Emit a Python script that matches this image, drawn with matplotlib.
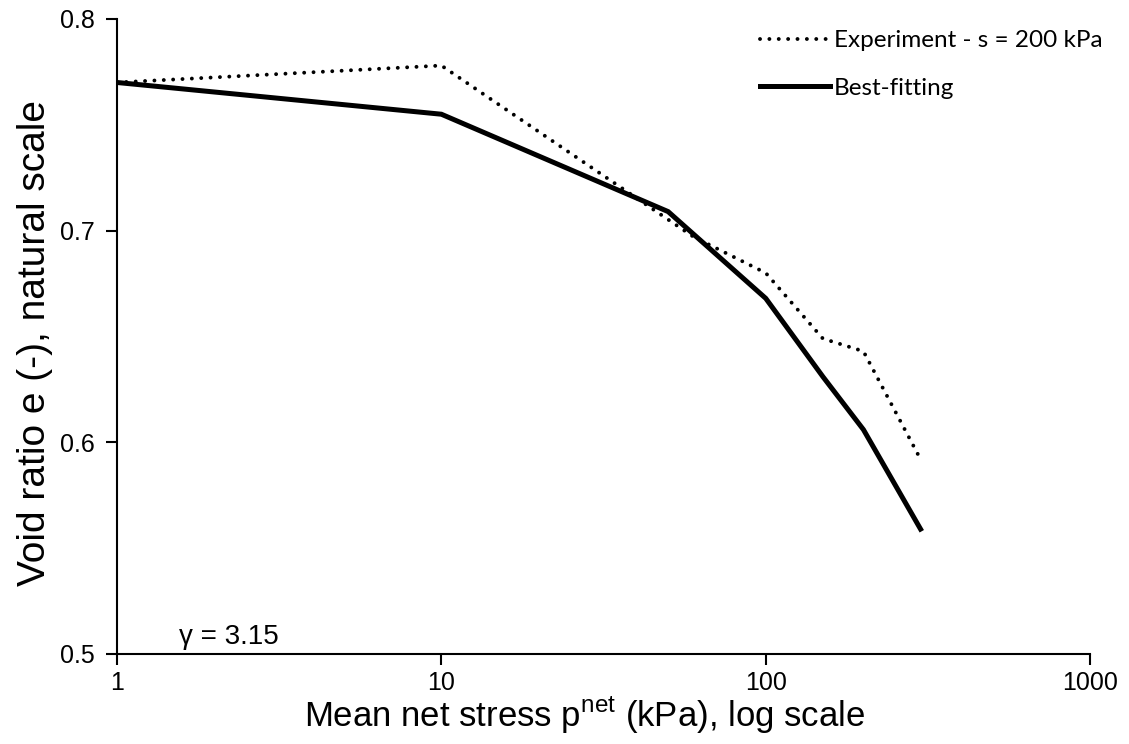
import matplotlib
matplotlib.use('Agg')
import matplotlib.pyplot as plt

# experiment, s = 200 kPa
p_exp = [1, 10, 60, 100, 150, 200, 300]
e_exp = [0.770, 0.778, 0.697, 0.680, 0.649, 0.643, 0.592]

# best-fitting curve
p_fit = [1, 10, 50, 100, 150, 200, 300]
e_fit = [0.770, 0.755, 0.709, 0.668, 0.631, 0.606, 0.559]

x_ticks = [1, 10, 100, 1000]
y_ticks = [0.5, 0.6, 0.7, 0.8]

plt.rcParams['font.family'] = ['Liberation Sans', 'DejaVu Sans']

fig = plt.figure(figsize=(11.29, 7.44), dpi=100)
ax = fig.add_axes([0.1036, 0.121, 0.862, 0.8535])

ax.plot(p_exp, e_exp, color='black', lw=2.8, linestyle=(0, (0.01, 2.4)),
        dash_capstyle='round', label='Experiment - s = 200 kPa')
ax.plot(p_fit, e_fit, color='black', lw=3.6, solid_joinstyle='miter',
        label='Best-fitting')

ax.set_xscale('log')
ax.set_xlim(1, 1000)
ax.set_ylim(0.5, 0.8)
ax.set_xticks(x_ticks)
ax.set_xticklabels([str(t) for t in x_ticks])
ax.set_yticks(y_ticks)
ax.set_yticklabels([f'{t:.1f}' for t in y_ticks])
ax.minorticks_off()
ax.tick_params(axis='both', labelsize=18, length=8, width=1.5, direction='out')
ax.tick_params(axis='x', pad=4)
ax.tick_params(axis='y', pad=8)

for side in ['top', 'right']:
    ax.spines[side].set_visible(False)
for side in ['left', 'bottom']:
    ax.spines[side].set_linewidth(1.5)

ax.set_xlabel('Mean net stress p$^{\\mathregular{net}}$ (kPa), log scale', fontsize=25, labelpad=0)
ax.xaxis.label.set_x(0.48)
ax.set_ylabel('Void ratio e (-), natural scale', fontsize=28, labelpad=5)
ax.yaxis.label.set_y(0.49)

ax.text(0.064, 0.027, 'γ = 3.15', transform=ax.transAxes, fontsize=20, va='center')

leg = ax.legend(loc='upper right', bbox_to_anchor=(1.035, 1.017), frameon=False,
                prop={'family': 'Lato', 'size': 17.5}, handlelength=2.9,
                handletextpad=0.15, labelspacing=1.1)

fig.savefig('out.png', dpi=100)
